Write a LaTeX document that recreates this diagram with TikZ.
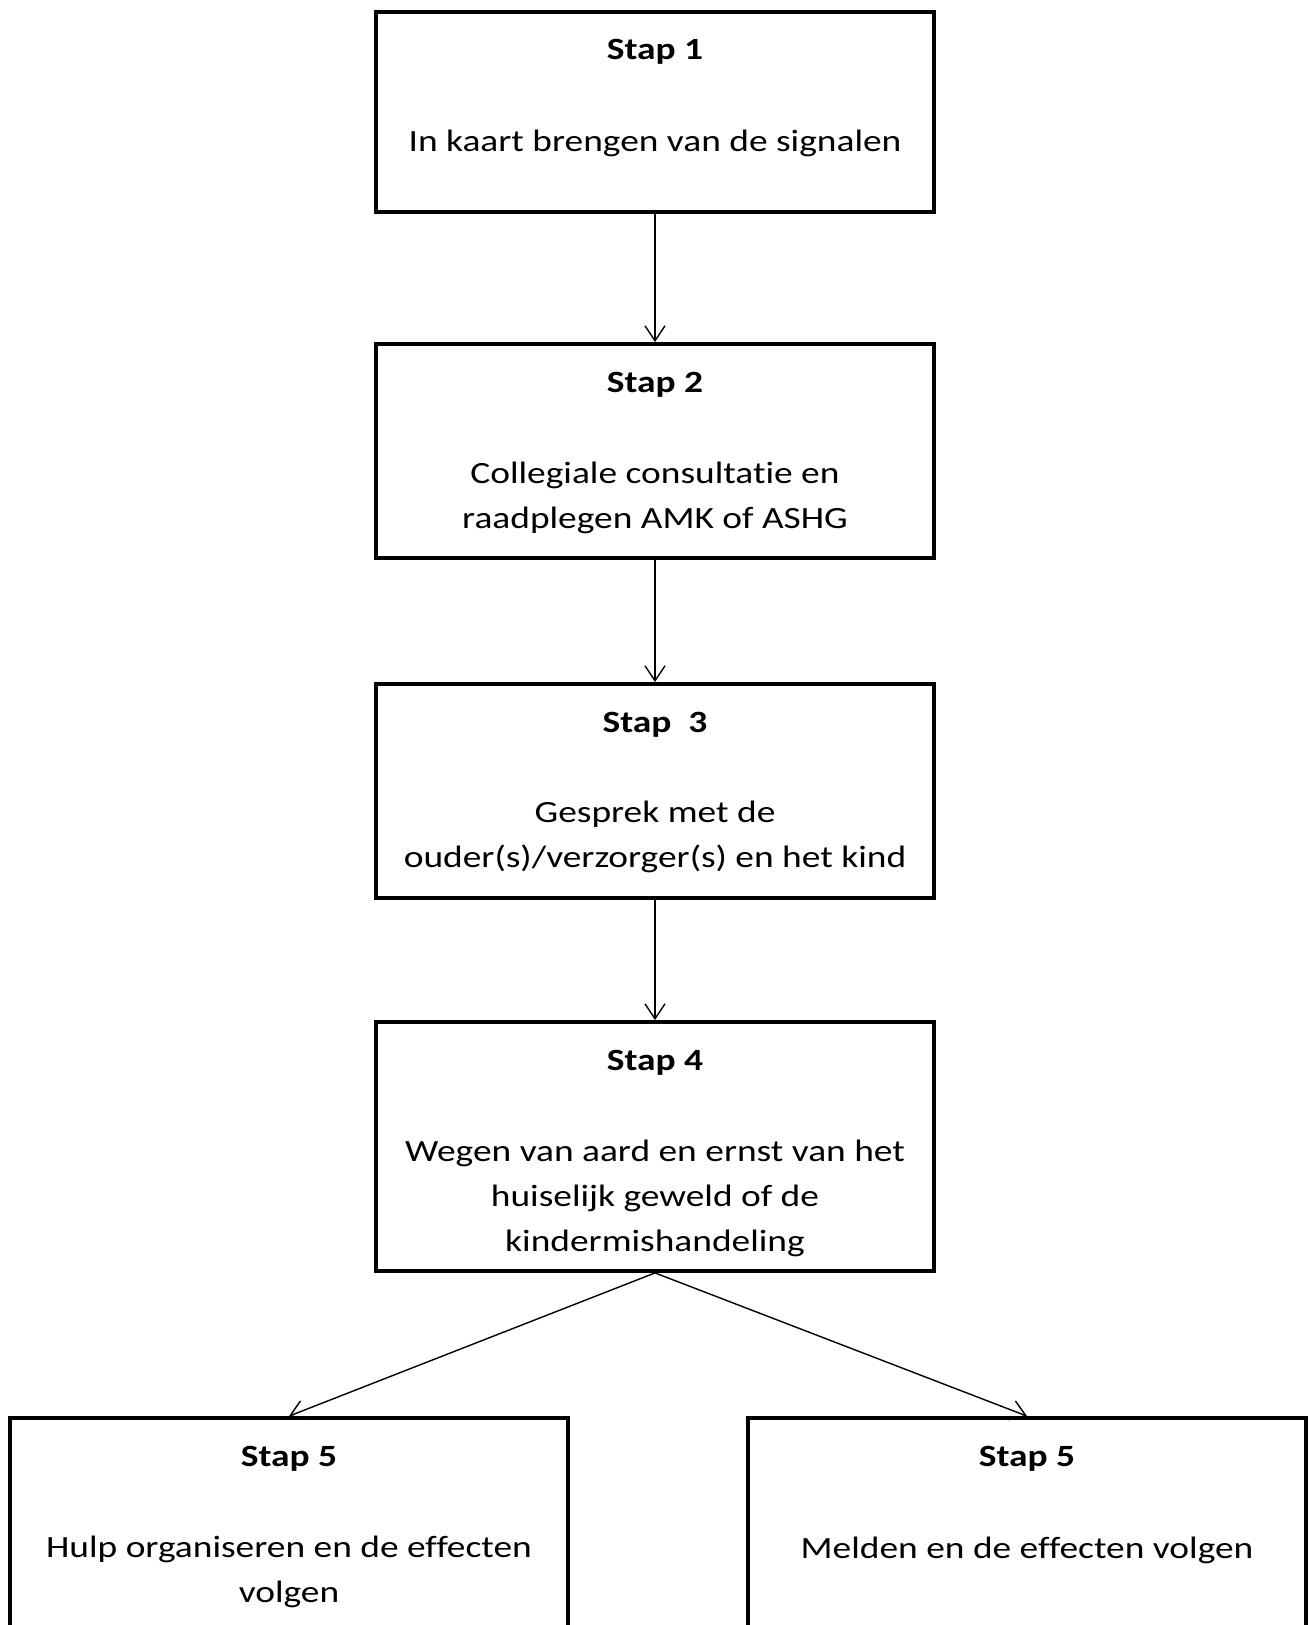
\documentclass[tikz,border=0pt]{standalone}
\usepackage{fontspec}
\setmainfont{Carlito}[FakeStretch=1.21, Ligatures=NoCommon]
\usetikzlibrary{arrows.meta}

\tikzset{
  stapbox/.style={draw, line width=2.2pt, minimum width=11.16cm, inner sep=0pt},
  stapline/.style={anchor=base, inner sep=0pt, align=center},
  pijl/.style={line width=0.8pt, -{Straight Barb[length=0.3cm, width=0.4cm]}}
}

\begin{document}
\begin{tikzpicture}[x=0.02cm, y=-0.02cm, font=\fontsize{17.6}{25.4}\selectfont]
\useasboundingbox (0,0) rectangle (1309,1625);
\node[stapbox, minimum height=4cm] (box1) at (655,112) {};
\node[stapbox, minimum height=4.28cm] (box2) at (655,451) {};
\node[stapbox, minimum height=4.28cm] (box3) at (655,791) {};
\node[stapbox, minimum height=4.98cm] (box4) at (655,1146.5) {};
\node[stapbox, minimum height=5.64cm] (box5a) at (289,1559) {};
\node[stapbox, minimum height=5.64cm] (box5b) at (1027,1559) {};

\node[stapline] (titel1) at (655,60) {\textbf{Stap 1}};
\node[stapline] (tekst1) at (655,152) {In kaart brengen van de signalen};
\node[stapline] (titel2) at (655,392) {\textbf{Stap 2}};
\node[stapline] (tekst2) at (655,528.6) {Collegiale consultatie en\\ raadplegen AMK of ASHG};
\node[stapline] (titel3) at (655,732) {\textbf{Stap\ \ 3}};
\node[stapline] (tekst3) at (655,867.6) {Gesprek met de\\ ouder(s)/verzorger(s) en het kind};
\node[stapline] (titel4) at (655,1070) {\textbf{Stap 4}};
\node[stapline] (tekst4) at (655,1251.2) {Wegen van aard en ernst van het\\ huiselijk geweld of de\\ kindermishandeling};
\node[stapline] (titel5a) at (289,1466) {\textbf{Stap 5}};
\node[stapline] (tekst5a) at (289,1602.6) {Hulp organiseren en de effecten\\ volgen};
\node[stapline] (titel5b) at (1027,1466) {\textbf{Stap 5}};
\node[stapline] (tekst5b) at (1027,1558) {Melden en de effecten volgen};

\draw[pijl] (box1.south) -- (box2.north);
\draw[pijl] (box2.south) -- (box3.north);
\draw[pijl] (box3.south) -- (box4.north);
\draw[pijl] (box4.south) -- (box5a.north);
\draw[pijl] (box4.south) -- (box5b.north);
\end{tikzpicture}
\end{document}
